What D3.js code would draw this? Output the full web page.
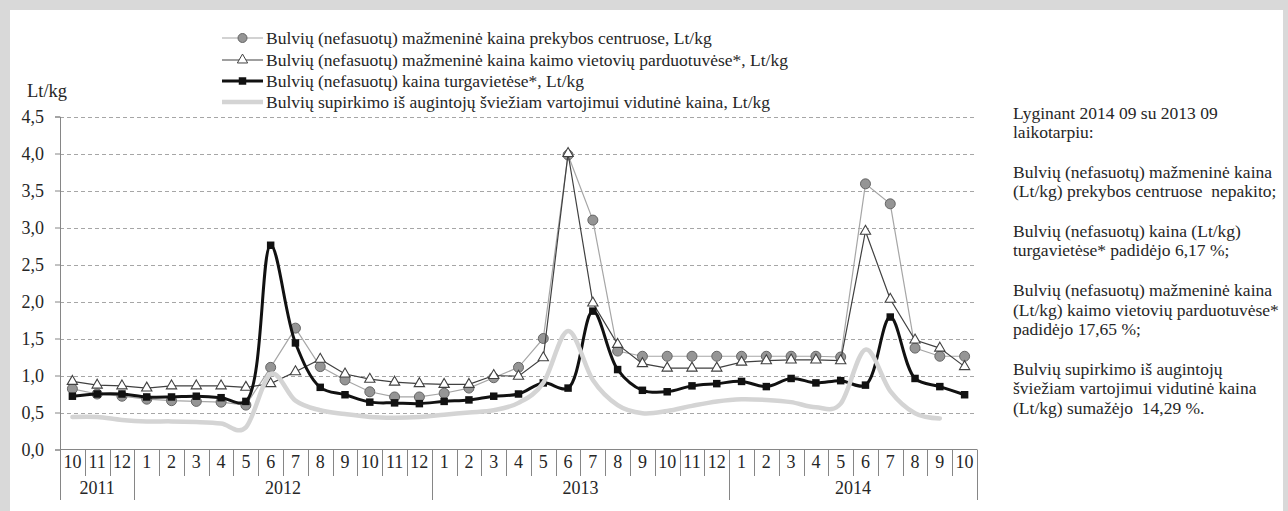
<!DOCTYPE html>
<html>
<head>
<meta charset="utf-8">
<script src="https://cdn.jsdelivr.net/npm/d3@7"></script>
<style>
  body { margin: 0; background: #d9d9d9; }
  svg text { font-family: "Liberation Serif", "Times New Roman", "DejaVu Serif", serif; fill: #262626; }
</style>
</head>
<body>
<div id="chart"></div>
<script>
// Define svg width and height
var svgWidth = 1288;
var svgHeight = 511;

// month labels along the x axis (2011-10 .. 2014-10)
var months = ["10", "11", "12",
  "1", "2", "3", "4", "5", "6", "7", "8", "9", "10", "11", "12",
  "1", "2", "3", "4", "5", "6", "7", "8", "9", "10", "11", "12",
  "1", "2", "3", "4", "5", "6", "7", "8", "9", "10"];
var years = ["2011", "2012", "2013", "2014"];

// y ticks
var yTicks = [0, 0.5, 1, 1.5, 2, 2.5, 3, 3.5, 4, 4.5];

// series values, Lt/kg
var retailCentres = [0.82, 0.75, 0.72, 0.68, 0.66, 0.65, 0.64, 0.60, 1.11, 1.64, 1.12, 0.94, 0.78, 0.71, 0.71,
  0.76, 0.83, 0.97, 1.11, 1.50, 3.98, 3.10, 1.33, 1.26, 1.26, 1.26, 1.26,
  1.26, 1.26, 1.26, 1.26, 1.25, 3.59, 3.32, 1.37, 1.26, 1.26];
var ruralShops = [0.92, 0.87, 0.86, 0.83, 0.86, 0.86, 0.86, 0.84, 0.89, 1.05, 1.22, 1.02, 0.95, 0.91, 0.89,
  0.88, 0.88, 1.00, 0.99, 1.24, 4.00, 1.98, 1.42, 1.16, 1.10, 1.10, 1.10,
  1.18, 1.20, 1.21, 1.21, 1.20, 2.95, 2.03, 1.48, 1.37, 1.12];
var markets = [0.72, 0.75, 0.75, 0.71, 0.71, 0.72, 0.70, 0.65, 2.76, 1.44, 0.84, 0.74, 0.64, 0.63, 0.62,
  0.65, 0.67, 0.72, 0.75, 0.90, 0.83, 1.87, 1.08, 0.80, 0.78, 0.86, 0.89,
  0.92, 0.85, 0.96, 0.90, 0.93, 0.87, 1.79, 0.96, 0.85, 0.74];
var purchase = [0.44, 0.44, 0.40, 0.38, 0.38, 0.37, 0.35, 0.30, 1.02, 0.66, 0.53, 0.48, 0.44, 0.43, 0.44,
  0.47, 0.50, 0.53, 0.63, 0.90, 1.60, 0.94, 0.60, 0.49, 0.52, 0.59, 0.65,
  0.68, 0.67, 0.64, 0.57, 0.62, 1.35, 0.79, 0.49, 0.42, null];

var legendLabels = [
  "Bulvių (nefasuotų) mažmeninė kaina prekybos centruose, Lt/kg",
  "Bulvių (nefasuotų) mažmeninė kaina kaimo vietovių parduotuvėse*, Lt/kg",
  "Bulvių (nefasuotų) kaina turgavietėse*, Lt/kg",
  "Bulvių supirkimo iš augintojų šviežiam vartojimui vidutinė kaina, Lt/kg"
];

var noteLines = [
  "Lyginant 2014 09 su 2013 09", "laikotarpiu:", "",
  "Bulvių (nefasuotų) mažmeninė kaina", "(Lt/kg) prekybos centruose  nepakito;", "",
  "Bulvių (nefasuotų) kaina (Lt/kg)", "turgavietėse* padidėjo 6,17 %;", "",
  "Bulvių (nefasuotų) mažmeninė kaina", "(Lt/kg) kaimo vietovių parduotuvėse*", "padidėjo 17,65 %;", "",
  "Bulvių supirkimo iš augintojų", "šviežiam vartojimui vidutinė kaina", "(Lt/kg) sumažėjo  14,29 %."
];

// plot area
var plot = { left: 60, right: 977, top: 116.5, bottom: 449.5 };

var svg = d3.select("#chart")
  .append("svg")
  .attr("width", svgWidth)
  .attr("height", svgHeight);

// gray frame with white sheet
svg.append("rect")
  .attr("width", svgWidth)
  .attr("height", svgHeight)
  .attr("fill", "#d9d9d9");
svg.append("rect")
  .attr("x", 10)
  .attr("y", 10)
  .attr("width", 1273)
  .attr("height", svgHeight)
  .attr("fill", "#fff");

// scales
var xScale = d3.scaleBand()
  .domain(d3.range(months.length))
  .range([plot.left, plot.right]);
var yScale = d3.scaleLinear()
  .domain([0, 4.5])
  .range([plot.bottom, plot.top]);
var xc = i => xScale(i) + xScale.bandwidth() / 2;

// gridlines
svg.append("g")
  .selectAll("line")
  .data(yTicks.filter(d => d > 0))
  .enter()
  .append("line")
  .attr("x1", plot.left)
  .attr("x2", plot.right)
  .attr("y1", d => Math.round(yScale(d)) + 0.5)
  .attr("y2", d => Math.round(yScale(d)) + 0.5)
  .attr("stroke", "#a6a6a6")
  .attr("stroke-dasharray", "4,3");

// y axis
var leftAxis = d3.axisLeft(yScale)
  .tickValues(yTicks)
  .tickSize(5)
  .tickFormat(d => d3.format(".1f")(d).replace(".", ","));
var yAxis = svg.append("g")
  .attr("transform", `translate(${plot.left}, 0)`)
  .call(leftAxis);
yAxis.attr("font-family", null).attr("font-size", null);
yAxis.select(".domain").attr("stroke", "#868686");
yAxis.selectAll(".tick line").attr("stroke", "#868686");
yAxis.selectAll(".tick text")
  .attr("x", -16)
  .attr("fill", null)
  .style("font-size", "18px");

svg.append("text")
  .attr("x", 27)
  .attr("y", 97)
  .style("font-size", "18.5px")
  .text("Lt/kg");

// x axis: baseline + category separators
var xAxis = svg.append("g");
xAxis.append("line")
  .attr("x1", plot.left)
  .attr("x2", plot.right)
  .attr("y1", plot.bottom)
  .attr("y2", plot.bottom)
  .attr("stroke", "#868686");

var bounds = d3.range(months.length + 1);
xAxis.selectAll(".sep")
  .data(bounds)
  .enter()
  .append("line")
  .attr("x1", i => Math.round(plot.left + i * xScale.bandwidth()) + 0.5)
  .attr("x2", i => Math.round(plot.left + i * xScale.bandwidth()) + 0.5)
  .attr("y1", plot.bottom)
  .attr("y2", i => (i === 0 || i === months.length || months[i] === "1") ? 500 : 476)
  .attr("stroke", "#868686");

xAxis.selectAll(".month")
  .data(months)
  .enter()
  .append("text")
  .attr("x", (d, i) => xc(i))
  .attr("y", 468)
  .attr("text-anchor", "middle")
  .style("font-size", "18px")
  .text(d => d);

// year spans from month "1" boundaries
var yearStarts = [0].concat(d3.range(months.length).filter(i => months[i] === "1"));
var yearEnds = yearStarts.slice(1).concat([months.length]);
xAxis.selectAll(".year")
  .data(years)
  .enter()
  .append("text")
  .attr("x", (d, i) => plot.left + (yearStarts[i] + yearEnds[i]) / 2 * xScale.bandwidth())
  .attr("y", 494)
  .attr("text-anchor", "middle")
  .style("font-size", "18px")
  .text(d => d);

// line generators
var straight = d3.line()
  .defined(d => d != null)
  .x((d, i) => xc(i))
  .y(d => yScale(d));
var smooth = d3.line()
  .defined(d => d != null)
  .x((d, i) => xc(i))
  .y(d => yScale(d))
  .curve(d3.curveCardinal.tension(0));
var smoothTight = d3.line()
  .x((d, i) => xc(i))
  .y(d => yScale(d))
  .curve(d3.curveCatmullRom.alpha(0.5));

var triangle = d3.symbol().type(d3.symbolTriangle).size(46);
var square = d3.symbol().type(d3.symbolSquare).size(56);

// series 1: retail centres (gray circles)
svg.append("path")
  .attr("d", straight(retailCentres))
  .attr("fill", "none")
  .attr("stroke", "#a6a6a6")
  .attr("stroke-width", 1.2);
svg.append("g")
  .selectAll("circle")
  .data(retailCentres)
  .enter()
  .append("circle")
  .attr("cx", (d, i) => xc(i))
  .attr("cy", d => yScale(d))
  .attr("r", 5)
  .attr("fill", "#959595")
  .attr("stroke", "#666")
  .attr("stroke-width", 1);

// series 2: rural shops (white triangles)
svg.append("path")
  .attr("d", straight(ruralShops))
  .attr("fill", "none")
  .attr("stroke", "#404040")
  .attr("stroke-width", 1.2);
svg.append("g")
  .selectAll("path")
  .data(ruralShops)
  .enter()
  .append("path")
  .attr("d", triangle)
  .attr("transform", (d, i) => `translate(${xc(i)}, ${yScale(d)})`)
  .attr("fill", "#fff")
  .attr("stroke", "#404040")
  .attr("stroke-width", 1.1);

// series 3: markets (black squares, smoothed)
svg.append("path")
  .attr("d", smoothTight(markets))
  .attr("fill", "none")
  .attr("stroke", "#111")
  .attr("stroke-width", 3);
svg.append("g")
  .selectAll("path")
  .data(markets)
  .enter()
  .append("path")
  .attr("d", square)
  .attr("transform", (d, i) => `translate(${xc(i)}, ${yScale(d)})`)
  .attr("fill", "#111");

// series 4: purchase price (thick light gray, smoothed)
svg.append("path")
  .attr("d", smooth(purchase))
  .attr("fill", "none")
  .attr("stroke", "#d4d4d4")
  .attr("stroke-width", 4.5)
  .attr("stroke-linecap", "round");

// legend
var legend = svg.append("g");
var legendY = [38, 60, 81, 102];
var legendStyles = [
  { stroke: "#a6a6a6", width: 1.2 },
  { stroke: "#404040", width: 1.2 },
  { stroke: "#111", width: 3 },
  { stroke: "#d4d4d4", width: 4.5 }
];
legendLabels.forEach(function(label, k) {
  var row = legend.append("g")
    .attr("transform", `translate(222, ${legendY[k]})`);
  row.append("line")
    .attr("x1", 0)
    .attr("x2", 41)
    .attr("stroke", legendStyles[k].stroke)
    .attr("stroke-width", legendStyles[k].width);
  if (k === 0) {
    row.append("circle").attr("cx", 20.5).attr("r", 4.5)
      .attr("fill", "#959595").attr("stroke", "#666");
  } else if (k === 1) {
    row.append("path").attr("d", triangle).attr("transform", "translate(20.5, 0)")
      .attr("fill", "#fff").attr("stroke", "#404040");
  } else if (k === 2) {
    row.append("path").attr("d", square).attr("transform", "translate(20.5, 0)")
      .attr("fill", "#111");
  }
  row.append("text")
    .attr("x", 44)
    .attr("y", 5.5)
    .style("font-size", "17.5px")
    .text(label);
});

// comparison notes on the right
svg.append("g")
  .selectAll("text")
  .data(noteLines)
  .enter()
  .append("text")
  .attr("x", 1013)
  .attr("y", (d, i) => 118.5 + i * 19.7)
  .style("font-size", "17.5px")
  .style("white-space", "pre")
  .text(d => d);
</script>
</body>
</html>
